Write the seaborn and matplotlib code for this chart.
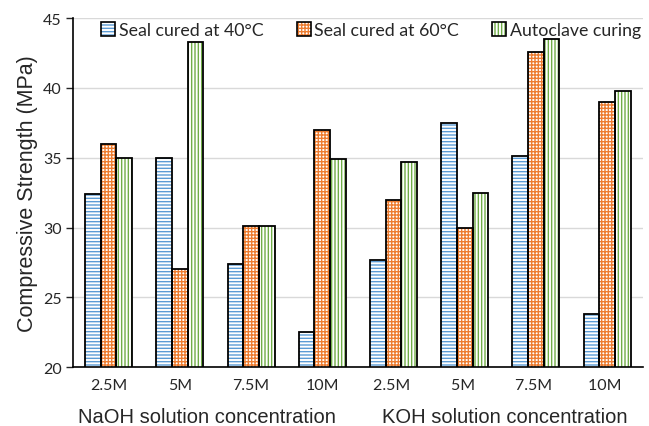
import pandas as pd
import seaborn as sns
import matplotlib.pyplot as plt
from matplotlib.patches import Rectangle, Patch
from matplotlib.legend_handler import HandlerTuple

# data
concentrations = ["2.5M", "5M", "7.5M", "10M", "2.5M ", "5M ", "7.5M ", "10M "]
seal_40 = [32.4, 35.0, 27.4, 22.5, 27.7, 37.5, 35.1, 23.8]
seal_60 = [36.0, 27.0, 30.1, 37.0, 32.0, 30.0, 42.6, 39.0]
autoclave = [35.0, 43.3, 30.1, 34.9, 34.7, 32.5, 43.5, 39.8]
curing = ["Seal cured at 40°C", "Seal cured at 60°C", "Autoclave curing"]
groups = ["NaOH solution concentration", "KOH solution concentration"]

colors = ["#5b9bd5", "#ed7d31", "#70ad47"]
hatches = ["-----", "+++++", "|||||"]

df = pd.DataFrame({
    "conc": concentrations * 3,
    "strength": seal_40 + seal_60 + autoclave,
    "curing": [c for c in curing for _ in concentrations],
})

sns.set_style("white")
plt.rcParams["font.family"] = ["Lato", "DejaVu Sans"]
plt.rcParams["hatch.linewidth"] = 1.0

fig = plt.figure(figsize=(6.49, 4.27), dpi=100)
ax = fig.add_axes([0.1125, 0.138, 0.878, 0.817])

sns.barplot(data=df, x="conc", y="strength", hue="curing", palette=colors,
            width=0.66, gap=0, ax=ax, legend=False, zorder=2)

for cont, col, h in zip(ax.containers, colors, hatches):
    for bar in cont:
        bar.set_facecolor("white")
        bar.set_edgecolor(col)
        bar.set_hatch(h)
        bar.set_linewidth(0)
        ax.add_patch(Rectangle(bar.get_xy(), bar.get_width(), bar.get_height(),
                               fill=False, ec="black", lw=1.3, zorder=3))

ax.set_ylim(20, 45)
ax.set_xlim(-0.5, len(concentrations) - 0.5)
ax.set_yticks(range(20, 46, 5))
ax.yaxis.grid(True, color="#d9d9d9", lw=1)
ax.set_axisbelow(True)
for s in ["top", "right"]:
    ax.spines[s].set_visible(False)
for s in ["left", "bottom"]:
    ax.spines[s].set_color("black")
    ax.spines[s].set_linewidth(1.2)
ax.tick_params(axis="y", direction="out", length=5, width=1, left=True, labelsize=11.5, pad=3)
ax.tick_params(axis="x", length=0, labelsize=11.5, pad=8)
ax.set_xlabel("")
ax.set_ylabel("Compressive Strength (MPa)", family="Liberation Sans", fontsize=15.5, labelpad=4)

for xc, g in zip([1.38, 5.56], groups):
    ax.text(xc, -0.143, g, transform=ax.get_xaxis_transform(), ha="center",
            va="center", family="Liberation Sans", fontsize=14.5)

handles = [(Patch(facecolor="white", edgecolor=c, hatch=h, lw=0),
            Patch(fill=False, edgecolor="black", lw=1.2)) for c, h in zip(colors, hatches)]
ax.legend(handles, curing, loc="upper center", bbox_to_anchor=(0.523, 1.035), ncol=3,
          frameon=False, fontsize=12.8, handlelength=0.8, handleheight=0.8,
          handletextpad=0.2, columnspacing=1.85,
          handler_map={tuple: HandlerTuple(ndivide=1, pad=0)})

fig.savefig("out.png", dpi=100)
